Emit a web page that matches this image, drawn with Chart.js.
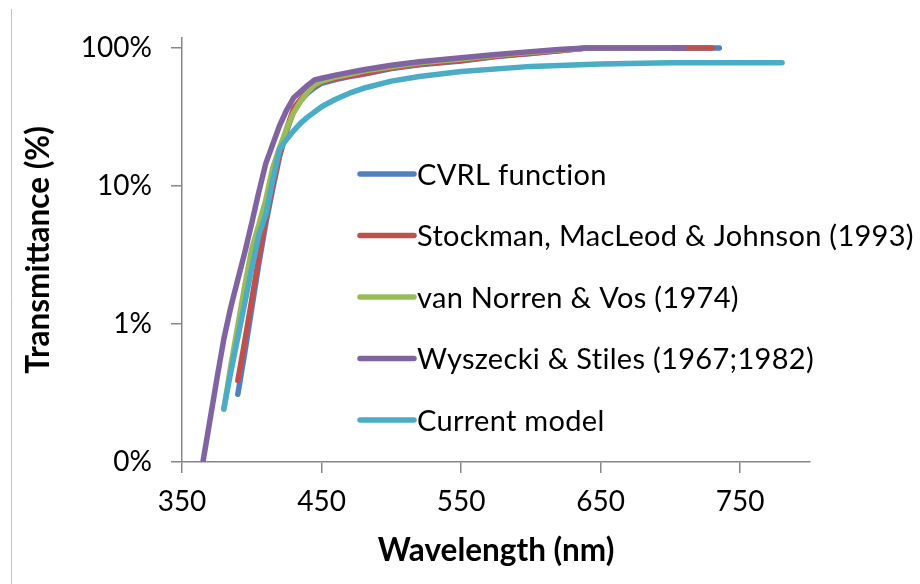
<!DOCTYPE html>
<html>
<head>
<meta charset="utf-8">
<script src="https://cdn.jsdelivr.net/npm/chart.js@4.4.1/dist/chart.umd.min.js"></script>
<style>
  html, body { margin: 0; padding: 0; background: #fff; }
  #wrap { width: 920px; height: 584px; position: relative; }
</style>
</head>
<body>
<div id="wrap"><canvas id="lensChart" width="920" height="584"></canvas></div>
<script>
// Series data: wavelength (nm) and transmittance (%)
const cvrlNm = [390, 395, 400, 405, 410, 415, 420, 425, 430, 435, 440, 445, 450, 460, 470, 480, 500, 520, 550, 575, 600, 620, 640, 700, 735];
const cvrlT  = [0.31, 0.62, 1.3, 2.7, 5.3, 9.5, 16.5, 25, 35, 41.5, 47, 51.5, 55.5, 59, 62, 64.5, 71, 75.5, 80.5, 86.5, 91, 95.5, 100, 100, 100];

const smjNm = [390, 395, 400, 405, 410, 415, 420, 425, 430, 435, 440, 445, 450, 460, 470, 480, 500, 520, 550, 575, 600, 620, 640, 700, 730];
const smjT  = [0.39, 0.75, 1.5, 3.0, 5.8, 10, 17, 26, 36.5, 42.5, 48.5, 53, 57, 60, 62.5, 65, 71.5, 76, 81, 87, 91.5, 95.5, 100, 100, 100];

const nvNm = [380, 385, 390, 395, 400, 405, 410, 415, 420, 425, 430, 435, 440, 445, 450, 460, 470, 480, 500, 520, 550, 575, 600, 620, 640, 700];
const nvT  = [0.24, 0.5, 0.97, 1.9, 3.5, 5.2, 7.9, 13.5, 19, 26, 34, 41, 48, 54, 57.5, 61.5, 64.5, 68, 73, 78, 83, 88.5, 93, 96.5, 100, 100];

const wsNm = [365, 370, 375, 380, 385, 390, 395, 400, 405, 410, 415, 420, 425, 430, 435, 440, 445, 450, 460, 470, 480, 500, 520, 550, 575, 600, 620, 640, 700, 710];
const wsT  = [0.1, 0.2, 0.4, 0.78, 1.33, 2.1, 3.3, 5.4, 9.0, 14.5, 20, 27.5, 35.5, 43.5, 48.3, 53.5, 58.7, 60.3, 63.5, 66.5, 69.5, 75, 79.5, 85, 89.5, 94, 97.5, 100, 100, 100];

const curNm = [380, 385, 390, 395, 400, 405, 410, 415, 420, 425, 430, 435, 440, 450, 460, 470, 480, 500, 520, 550, 600, 650, 700, 780];
const curT  = [0.245, 0.45, 0.8, 1.42, 2.55, 4.4, 6.2, 11, 18.5, 21.8, 25.1, 28.5, 31.5, 37.5, 42.5, 47, 51, 57.5, 62, 67.5, 73.5, 76.5, 78, 78];

const seriesNames = ['CVRL function', 'Stockman, MacLeod & Johnson (1993)', 'van Norren & Vos (1974)', 'Wyszecki & Stiles (1967;1982)', 'Current model'];
const seriesColors = ['#4F81BD', '#C0504D', '#9BBB59', '#8064A2', '#4BACC6'];

const xTicks = [350, 450, 550, 650, 750];
const yTickValues = [0.1, 1, 10, 100];
const yTickLabels = ['0%', '1%', '10%', '100%'];

const fontFamily = 'Lato, "Open Sans", sans-serif';
const axisGray = '#878787';

function toPoints(nm, t) {
    return nm.map((w, i) => ({ x: w, y: t[i] }));
}

const seriesData = [
    toPoints(cvrlNm, cvrlT),
    toPoints(smjNm, smjT),
    toPoints(nvNm, nvT),
    toPoints(wsNm, wsT),
    toPoints(curNm, curT)
];

// Excel draws later series on top -> higher index gets lower order
const datasets = seriesData.map((pts, i) => ({
    label: seriesNames[i],
    data: pts,
    borderColor: seriesColors[i],
    backgroundColor: seriesColors[i],
    borderWidth: 5.5,
    borderCapStyle: 'round',
    borderJoinStyle: 'round',
    pointRadius: 0,
    tension: 0,
    fill: false,
    order: seriesData.length - i
}));

// Legend drawn inside the plot, like the original
const insideLegend = {
    id: 'insideLegend',
    afterDraw(chart) {
        const ctx = chart.ctx;
        const x0 = 360, y0 = 174, lineLen = 54, rowH = 61.5;
        ctx.save();
        ctx.font = '29px ' + fontFamily;
        ctx.letterSpacing = '0.3px'; // also stops the "ti" ligature
        ctx.fillStyle = '#000';
        ctx.textAlign = 'left';
        ctx.textBaseline = 'alphabetic';
        chart.data.datasets.forEach((ds, i) => {
            const y = y0 + i * rowH;
            ctx.strokeStyle = ds.borderColor;
            ctx.lineWidth = 5.5;
            ctx.lineCap = 'round';
            ctx.beginPath();
            ctx.moveTo(x0, y);
            ctx.lineTo(x0 + lineLen, y);
            ctx.stroke();
            ctx.fillText(ds.label, x0 + lineLen + 3, y + 10.5);
        });
        ctx.restore();
    }
};

// thin chart-area border seen at the left edge
const edgeLine = {
    id: 'edgeLine',
    beforeDraw(chart) {
        const ctx = chart.ctx;
        ctx.save();
        ctx.strokeStyle = '#c4c4c4';
        ctx.lineWidth = 1;
        ctx.beginPath();
        ctx.moveTo(11.5, 9);
        ctx.lineTo(11.5, 584);
        ctx.stroke();
        ctx.restore();
    }
};

const ctx = document.getElementById('lensChart').getContext('2d');
new Chart(ctx, {
    type: 'line',
    data: { datasets: datasets },
    options: {
        responsive: false,
        animation: false,
        layout: { padding: { left: 0, top: 38, right: 110, bottom: 0 } },
        plugins: {
            legend: { display: false },
            tooltip: { enabled: false }
        },
        scales: {
            x: {
                type: 'linear',
                min: 350,
                max: 800,
                afterBuildTicks: scale => { scale.ticks = xTicks.map(v => ({ value: v })); },
                afterFit: scale => { scale.height = 122; },
                grid: { drawOnChartArea: false, drawTicks: true, tickLength: 11, color: axisGray, lineWidth: 1.5 },
                border: { display: true, color: axisGray, width: 1.5 },
                ticks: {
                    color: '#000',
                    font: { family: fontFamily, size: 28 },
                    padding: 12,
                    maxRotation: 0,
                    autoSkip: false
                },
                title: {
                    display: true,
                    text: 'Wavelength (nm)',
                    color: '#000',
                    font: { family: fontFamily, size: 31.5, weight: 'bold' },
                    padding: { top: 0, bottom: 14 }
                }
            },
            y: {
                type: 'logarithmic',
                min: 0.1,
                max: 118,
                afterBuildTicks: scale => { scale.ticks = yTickValues.map(v => ({ value: v })); },
                afterFit: scale => { scale.width = 182; },
                grid: { drawOnChartArea: false, drawTicks: true, tickLength: 11, color: axisGray, lineWidth: 1.5 },
                border: { display: true, color: axisGray, width: 1.5 },
                ticks: {
                    color: '#000',
                    font: { family: fontFamily, size: 28 },
                    padding: 19,
                    autoSkip: false,
                    callback: value => {
                        const idx = yTickValues.findIndex(v => Math.abs(v - value) < 1e-9);
                        return idx >= 0 ? yTickLabels[idx] : '';
                    }
                },
                title: {
                    display: true,
                    text: 'Transmittance (%)',
                    color: '#000',
                    font: { family: fontFamily, size: 31.5, weight: 'bold' },
                    padding: { top: 20, bottom: 0 }
                }
            }
        }
    },
    plugins: [edgeLine, insideLegend]
});
</script>
</body>
</html>
